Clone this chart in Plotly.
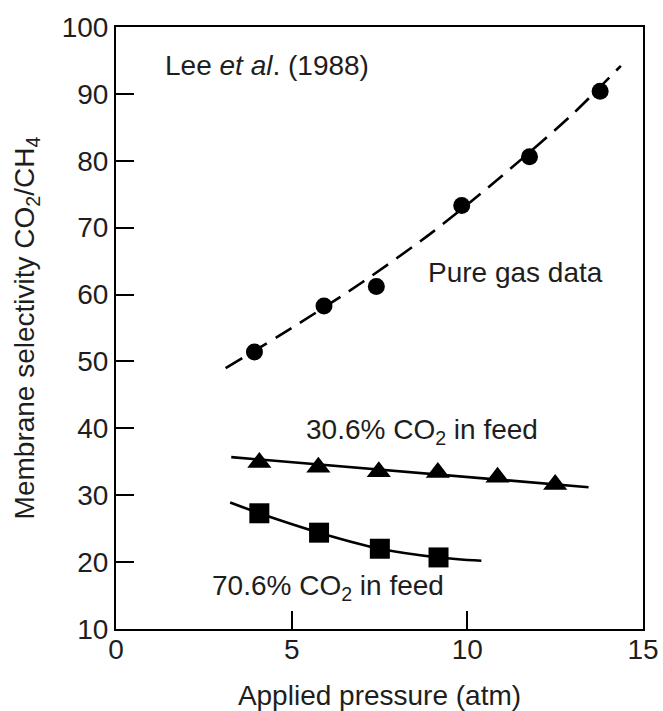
import plotly.graph_objects as go

# ---- data ----
pure_x = [3.94, 5.92, 7.41, 9.84, 11.77, 13.78]
pure_y = [51.4, 58.3, 61.2, 73.3, 80.6, 90.4]
pure_fit_x = [3.12, 5.0, 7.0, 9.0, 11.0, 13.0, 14.37]
pure_fit_y = [49.0, 55.0, 61.8, 69.3, 77.8, 87.0, 94.2]

f30_x = [4.08, 5.76, 7.48, 9.16, 10.86, 12.5]
f30_y = [34.9, 34.2, 33.5, 33.4, 32.7, 31.6]
f30_fit_x = [3.28, 13.45]
f30_fit_y = [35.7, 31.2]

f70_x = [4.08, 5.78, 7.51, 9.18]
f70_y = [27.3, 24.4, 22.0, 20.7]
f70_fit_x = [3.25, 4.08, 5.78, 7.51, 9.18, 10.4]
f70_fit_y = [28.9, 27.3, 24.4, 22.0, 20.7, 20.2]

x_ticks = [0, 5, 10, 15]
y_ticks = [10, 20, 30, 40, 50, 60, 70, 80, 90, 100]

FONT = "Liberation Sans, Arial, Helvetica, sans-serif"
TXT = "#1e1e1e"
FS = 28

fig = go.Figure()

fig.add_trace(go.Scatter(x=pure_fit_x, y=pure_fit_y, mode="lines",
                         line=dict(color="black", width=2.6, dash="19px,10px", shape="spline", smoothing=0.8),
                         showlegend=False, hoverinfo="skip"))
fig.add_trace(go.Scatter(x=pure_x, y=pure_y, mode="markers",
                         marker=dict(symbol="circle", size=17, color="black"),
                         showlegend=False))

fig.add_trace(go.Scatter(x=f30_fit_x, y=f30_fit_y, mode="lines",
                         line=dict(color="black", width=2.6),
                         showlegend=False, hoverinfo="skip"))
fig.add_trace(go.Scatter(x=f30_x, y=f30_y, mode="markers",
                         marker=dict(symbol="triangle-up", size=21, color="black"),
                         showlegend=False))

fig.add_trace(go.Scatter(x=f70_fit_x, y=f70_fit_y, mode="lines",
                         line=dict(color="black", width=2.6, shape="spline", smoothing=0.8),
                         showlegend=False, hoverinfo="skip"))
fig.add_trace(go.Scatter(x=f70_x, y=f70_y, mode="markers",
                         marker=dict(symbol="square", size=20, color="black"),
                         showlegend=False))

ann_font = dict(family=FONT, size=FS, color=TXT)
fig.add_annotation(x=1.33, y=94.2, text="Lee <i>et al</i>. (1988)", showarrow=False,
                   xanchor="left", yanchor="middle", font=ann_font)
fig.add_annotation(x=8.83, y=63.3, text="Pure gas data", showarrow=False,
                   xanchor="left", yanchor="middle", font=ann_font)
fig.add_annotation(x=5.35, y=39.6, text="30.6% CO<sub>2</sub> in feed", showarrow=False,
                   xanchor="left", yanchor="middle", font=ann_font)
fig.add_annotation(x=2.68, y=16.2, text="70.6% CO<sub>2</sub> in feed", showarrow=False,
                   xanchor="left", yanchor="middle", font=ann_font)

fig.update_xaxes(range=[0, 15], tickvals=x_ticks, ticktext=[str(v) for v in x_ticks],
                 ticks="inside", ticklen=18, tickwidth=2, tickcolor="black",
                 showline=True, linewidth=2, linecolor="black", mirror=True,
                 showgrid=False, zeroline=False, ticklabelstandoff=-6,
                 tickfont=dict(family=FONT, size=FS, color=TXT),
                 title=dict(text="Applied pressure (atm)", font=dict(family=FONT, size=FS, color=TXT), standoff=22))
fig.update_yaxes(range=[10, 100], tickvals=y_ticks, ticktext=[str(v) for v in y_ticks],
                 ticks="inside", ticklen=18, tickwidth=2, tickcolor="black",
                 showline=True, linewidth=2, linecolor="black", mirror=True,
                 showgrid=False, zeroline=False,
                 tickfont=dict(family=FONT, size=FS, color=TXT),
                 title=dict(text="Membrane selectivity CO<sub>2</sub>/CH<sub>4</sub>",
                            font=dict(family=FONT, size=FS, color=TXT), standoff=19))

fig.update_layout(width=663, height=711, margin=dict(l=116, r=20, t=27, b=82, autoexpand=False),
                  plot_bgcolor="white", paper_bgcolor="white", showlegend=False)

fig.write_html("out.html")
